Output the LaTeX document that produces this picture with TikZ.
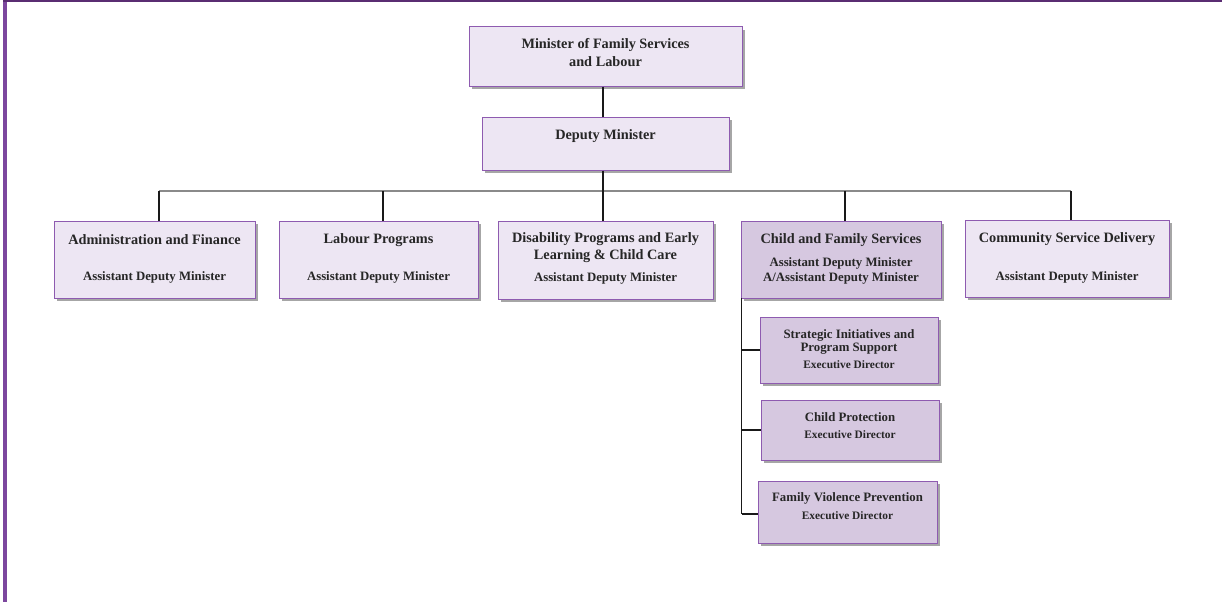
\documentclass[tikz,border=0pt]{standalone}
\usepackage{fontspec}
\setmainfont{Liberation Serif}
\usetikzlibrary{shadows}
\definecolor{boxfill}{HTML}{EDE6F3}
\definecolor{boxfillD}{HTML}{D6C8E0}
\definecolor{boxline}{HTML}{8E5BB0}
\definecolor{frameA}{HTML}{5A2D72}
\definecolor{frameB}{HTML}{7C479E}
\definecolor{conngray}{HTML}{8A8A8A}
\tikzset{
  orgbox/.style={draw=boxline, line width=1pt, fill=boxfill, rectangle, inner sep=0pt,
    drop shadow={shadow xshift=2.5pt, shadow yshift=-3pt, fill=black, opacity=0.35}},
  orgboxD/.style={orgbox, fill=boxfillD},
  lbl/.style={font=\bfseries\fontsize{14.3}{15}\selectfont, text=black!85, align=center, inner sep=0pt},
  slbl/.style={font=\bfseries\fontsize{12.8}{14}\selectfont, text=black!85, align=center, inner sep=0pt},
  xlbl/.style={font=\bfseries\fontsize{11.4}{12}\selectfont, text=black!85, align=center, inner sep=0pt},
  blk/.style={draw=black!90, line width=1.3pt},
  gry/.style={draw=conngray, line width=1.3pt},
}
\begin{document}
\begin{tikzpicture}[x=1pt,y=-1pt]
\useasboundingbox (0,0) rectangle (1222,602);
% frame
\fill[frameB] (3,0) rectangle (6.5,602);
\fill[frameA] (3,0) rectangle (1222,2.5);

% boxes
\node[orgbox, minimum width=273pt, minimum height=59pt] (min) at (605.5,56.5) {};
\node[lbl] at (605.5,45) {Minister of Family Services};
\node[lbl] at (605.5,62) {and Labour};

\node[orgbox, minimum width=247pt, minimum height=53pt] (dep) at (605.5,143.5) {};
\node[lbl] at (605.5,136) {Deputy Minister};

\node[orgbox, minimum width=201pt, minimum height=77pt] (adm) at (154.5,259.5) {};
\node[lbl] at (154.5,240) {Administration and Finance};
\node[slbl] at (154.5,277) {Assistant Deputy Minister};

\node[orgbox, minimum width=199pt, minimum height=77pt] (lab) at (378.5,259.5) {};
\node[lbl] at (378.5,240) {Labour Programs};
\node[slbl] at (378.5,277) {Assistant Deputy Minister};

\node[orgbox, minimum width=215pt, minimum height=78pt] (dis) at (605.5,260) {};
\node[lbl] at (605.5,239) {Disability Programs and Early};
\node[lbl] at (605.5,256) {Learning \& Child Care};
\node[slbl] at (605.5,278) {Assistant Deputy Minister};

\node[orgboxD, minimum width=200pt, minimum height=77pt] (cfs) at (841,259.5) {};
\node[lbl] at (841,240) {Child and Family Services};
\node[slbl] at (841,263) {Assistant Deputy Minister};
\node[slbl] at (841,278.5) {A/Assistant Deputy Minister};

\node[orgbox, minimum width=204pt, minimum height=77pt] (com) at (1067,258.5) {};
\node[lbl] at (1067,239) {Community Service Delivery};
\node[slbl] at (1067,277) {Assistant Deputy Minister};

\node[orgboxD, minimum width=178pt, minimum height=66pt] (sip) at (849,350) {};
\node[slbl] at (849,335) {Strategic Initiatives and};
\node[slbl] at (849,348.5) {Program Support};
\node[xlbl] at (849,364.5) {Executive Director};

\node[orgboxD, minimum width=178pt, minimum height=60pt] (cp) at (850,430) {};
\node[slbl] at (850,417) {Child Protection};
\node[xlbl] at (850,434.5) {Executive Director};

\node[orgboxD, minimum width=179pt, minimum height=62pt] (fvp) at (847.5,512) {};
\node[slbl] at (847.5,498) {Family Violence Prevention};
\node[xlbl] at (847.5,515.5) {Executive Director};

% connectors
\coordinate (bus) at (603,191);
\coordinate (b1) at (159,191);
\coordinate (b2) at (383,191);
\coordinate (b4) at (845,191);
\coordinate (b5) at (1071,191);
\draw[blk, line width=2pt] (min.south -| bus) -- (dep.north -| bus);
\draw[gry] (b1) -- (b5);
\draw[blk, line width=2pt] (dep.south -| bus) -- (dis.north -| bus);
\draw[blk] (b1) -- (b1 |- adm.north);
\draw[blk] (b2) -- (b2 |- lab.north);
\draw[blk] (b4) -- (b4 |- cfs.north);
\draw[blk] (b5) -- (b5 |- com.north);
\coordinate (stop) at (741.5,298);
\coordinate (sbot) at (741.5,514);
\draw[blk] (stop) -- (sbot);
\draw[blk] (stop |- sip.west) -- (sip.west);
\draw[blk] (stop |- cp.west) -- (cp.west);
\draw[blk] (sbot) -- (fvp.west |- sbot);
\end{tikzpicture}
\end{document}
